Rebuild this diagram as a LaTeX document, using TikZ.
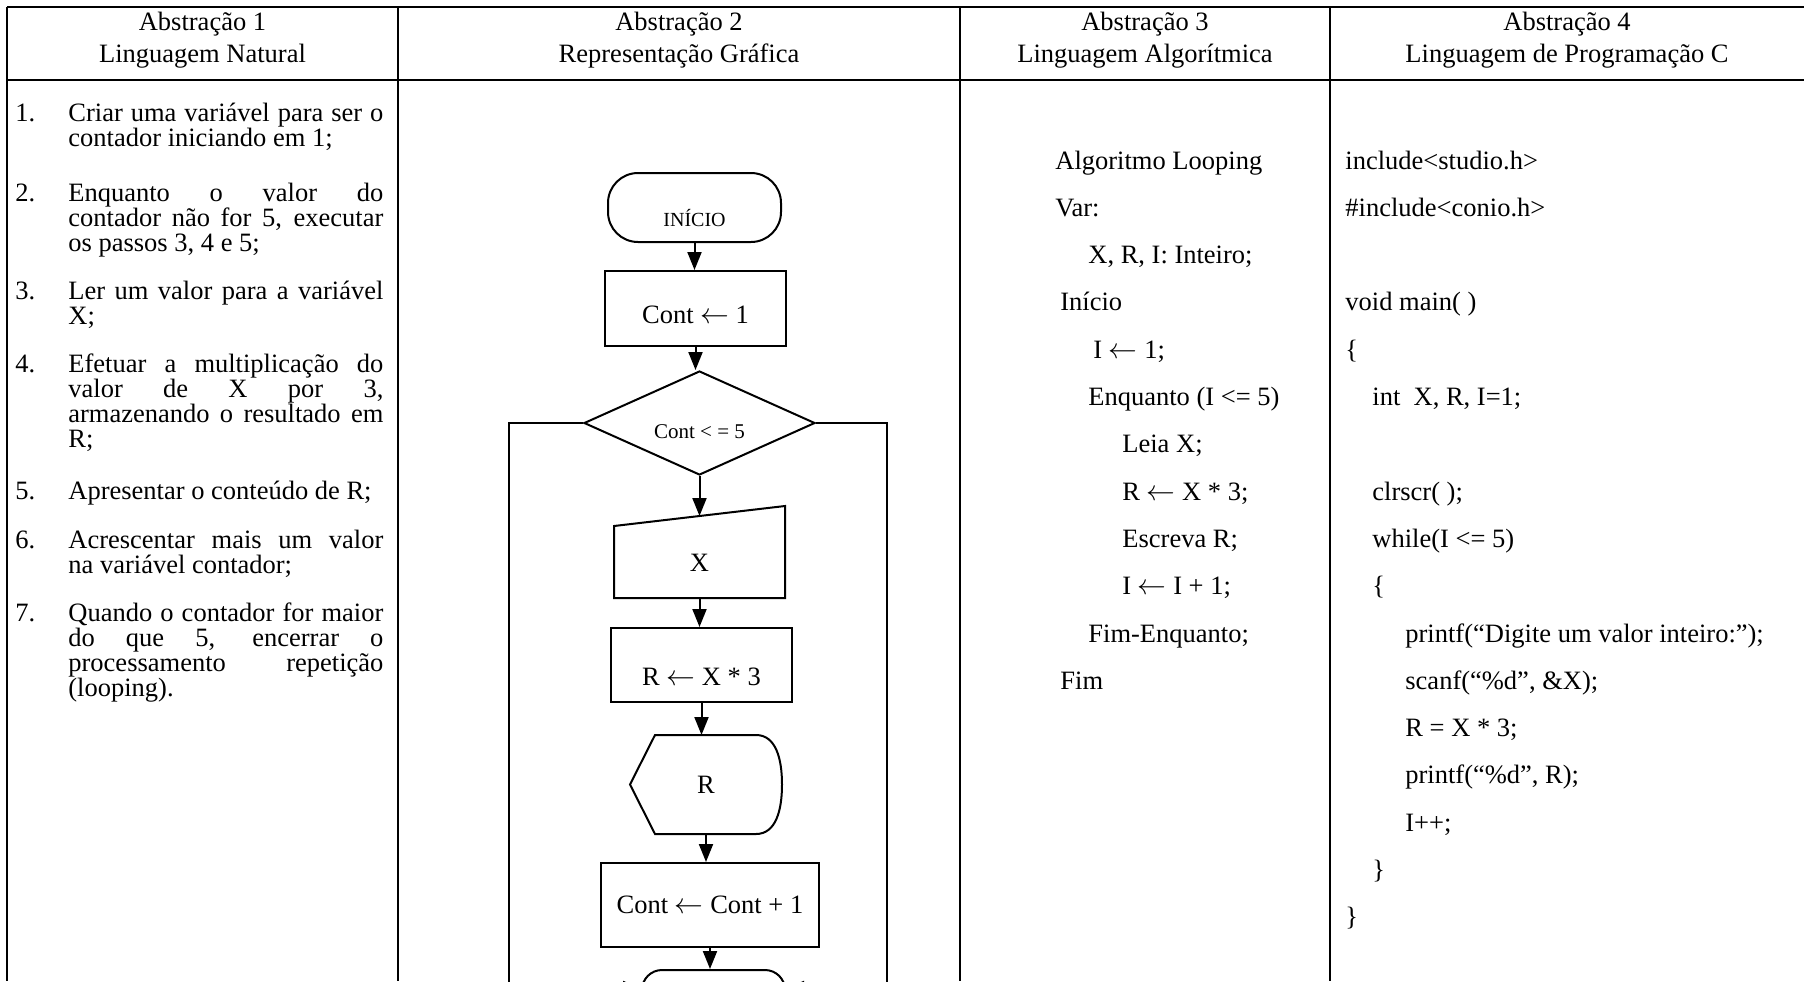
\documentclass[tikz,border=0pt]{standalone}
\usepackage{fontspec}
\setmainfont{Liberation Serif}
\usetikzlibrary{positioning, shapes.geometric, arrows.meta}
\hyphenpenalty=10000
\tolerance=10000
\tikzstyle{startstop} = [rectangle, rounded corners=15pt, minimum width=86.5pt, minimum height=34.5pt, text centered, draw=black, line width=1pt, font=\fontsize{10}{12}\selectfont]
\tikzstyle{process} = [rectangle, minimum width=90.5pt, minimum height=37.5pt, text centered, draw=black, line width=1pt]
\tikzstyle{decision} = [diamond, aspect=2.2, inner sep=0pt, minimum width=115.5pt, minimum height=52pt, text centered, draw=black, line width=1pt, font=\fontsize{10.5}{12}\selectfont]
\tikzstyle{arrow} = [line width=1pt, -{Triangle[length=9pt,width=7pt]}]
\tikzstyle{tabline} = [line width=1.4pt]
\tikzstyle{headline} = [anchor=base, inner sep=0pt]
\tikzstyle{listnum} = [anchor=base west, inner sep=0pt]
\tikzstyle{listitem} = [anchor=base west, inner sep=0pt, text width=157.5pt, align=justify, font=\fontsize{13.25}{12.6}\selectfont]
\tikzstyle{codeline} = [anchor=base west, inner sep=0pt]

\begin{document}
\begin{tikzpicture}[x=0.5pt, y=-0.5pt, font=\fontsize{13.25}{15.2}\selectfont]
			\clip (0,0) rectangle (1804,981);
			\fill [white] (0,0) rectangle (1804,981);
			
			% table
			\draw [tabline] (7,7) -- (1804,7);
			\draw [tabline] (7,80) -- (1804,80);
			\draw [tabline] (7,7) -- (7,981);
			\draw [tabline] (398,7) -- (398,981);
			\draw [tabline] (960,7) -- (960,981);
			\draw [tabline] (1330,7) -- (1330,981);
			
			\node (h1a) [headline] at (202.5,30) {Abstração 1};
			\node (h1b) [headline] at (202.5,62) {Linguagem Natural};
			\node (h2a) [headline] at (679,30) {Abstração 2};
			\node (h2b) [headline] at (679,62) {Representação Gráfica};
			\node (h3a) [headline] at (1145,30) {Abstração 3};
			\node (h3b) [headline] at (1145,62) {Linguagem Algorítmica};
			\node (h4a) [headline] at (1567,30) {Abstração 4};
			\node (h4b) [headline] at (1567,62) {Linguagem de Programação C};
			
			% natural language
			\node (n1) [listnum] at (15,121) {1.};
			\node (t1) [listitem] at (68,121) {Criar uma variável para ser o\linebreak contador iniciando em 1;};
			\node (n2) [listnum] at (15,201) {2.};
			\node (t2) [listitem] at (68,201) {Enquanto o valor do\linebreak contador não for 5, executar\linebreak os passos 3, 4 e 5;};
			\node (n3) [listnum] at (15,299) {3.};
			\node (t3) [listitem] at (68,299) {Ler um valor para a variável\linebreak X;};
			\node (n4) [listnum] at (15,372) {4.};
			\node (t4) [listitem] at (68,372) {Efetuar a multiplicação do\linebreak valor de X por 3,\linebreak armazenando o resultado em\linebreak R;};
			\node (n5) [listnum] at (15,499) {5.};
			\node (t5) [listitem] at (68,499) {Apresentar o conteúdo de R;};
			\node (n6) [listnum] at (15,548) {6.};
			\node (t6) [listitem] at (68,548) {Acrescentar mais um valor\linebreak na variável contador;};
			\node (n7) [listnum] at (15,621) {7.};
			\node (t7) [listitem] at (68,621) {Quando o contador for maior\linebreak do que 5, encerrar o\linebreak processamento repetição\linebreak (looping).};
			
			% flowchart
			\node (inicio) [startstop, text height=19pt, text depth=0pt] at (694.5,207.5) {INÍCIO};
			\node (init) [process, text height=15.3pt, text depth=0pt] at (695.5,308.5) {Cont $\leftarrow$ 1};
			\node (test) [decision, text height=15pt, text depth=0pt] at (699.5,423) {Cont < = 5};
			\node (input) [process, draw=none, minimum width=84.5pt, minimum height=45pt, text height=19.8pt, text depth=0pt] at (699.5,552) {X};
			\node (calc) [process, minimum height=37pt, text height=20.3pt, text depth=0pt] at (701.5,665) {R $\leftarrow$ X * 3};
			\node (output) [process, draw=none, minimum width=75pt, minimum height=48.5pt] at (706,784.5) {R};
			\node (incr) [process, minimum width=109pt, minimum height=42pt] at (710,905) {Cont $\leftarrow$ Cont + 1};
			\node (fim) [startstop, minimum width=71.5pt, minimum height=40pt, rounded corners=10pt] at (713.5,1010) {};
			
			\draw [line width=1pt] (input.south west) -- (input.south east) -- (input.north east) -- ([yshift=-10pt]input.north west) -- cycle;
			\draw [line width=1pt] ([xshift=12.5pt]output.north west) -- ([xshift=-13pt]output.north east) .. controls ([xshift=-3pt]output.north east) and ([yshift=-12pt]output.north east) .. (output.east) .. controls ([yshift=12pt]output.south east) and ([xshift=-3pt]output.south east) .. ([xshift=-13pt]output.south east) -- ([xshift=12.5pt]output.south west) -- (output.west) -- cycle;
			
			\coordinate (lbot) at (509,988);
			\coordinate (rbot) at (887,988);
			
			\draw [arrow] (inicio.south) -- (inicio.south |- init.north);
			\draw [arrow] (init.south) -- (init.south |- test.north);
			\draw [arrow] (test.south) -- ([yshift=-5pt]input.north);
			\draw [arrow] (input.south) -- (input.south |- calc.north);
			\draw [arrow] (calc.south) -- (calc.south |- output.north);
			\draw [arrow] (output.south) -- (output.south |- incr.north);
			\draw [arrow] (incr.south) -- (incr.south |- fim.north);
			\draw [arrow] (test.west) -| (lbot) -- (lbot -| fim.west);
			\draw [arrow] (test.east) -| (rbot) -- (rbot -| fim.east);
			
			% algorithm
			\node (alg) [codeline] at (1055,169) {Algoritmo Looping};
			\node (var) [codeline] at (1055,216.3) {Var:};
			\node (decl) [codeline] at (1088,263.6) {X, R, I: Inteiro;};
			\node (ini) [codeline] at (1060,310.9) {Início};
			\node (atr) [codeline] at (1093,358.2) {I $\leftarrow$ 1;};
			\node (enq) [codeline] at (1088,405.5) {Enquanto (I <= 5)};
			\node (leia) [codeline] at (1122,452.8) {Leia X;};
			\node (calcr) [codeline] at (1122,500.1) {R $\leftarrow$ X * 3;};
			\node (escr) [codeline] at (1122,547.4) {Escreva R;};
			\node (incri) [codeline] at (1122,594.7) {I $\leftarrow$ I + 1;};
			\node (fimenq) [codeline] at (1088,642) {Fim-Enquanto;};
			\node (fimalg) [codeline] at (1060,689.3) {Fim};
			
			% C program
			\node (inc1) [codeline] at (1345,169) {include<studio.h>};
			\node (inc2) [codeline] at (1345,216.3) {\#include<conio.h>};
			\node (mainf) [codeline] at (1345,310.9) {void main( )};
			\node (ob1) [codeline] at (1345,358.2) {\{};
			\node (decv) [codeline] at (1372,405.5) {int\ \ X, R, I=1;};
			\node (clr) [codeline] at (1372,500.1) {clrscr( );};
			\node (wh) [codeline] at (1372,547.4) {while(I <= 5)};
			\node (ob2) [codeline] at (1372,594.7) {\{};
			\node (pr1) [codeline] at (1405,642) {printf(“Digite um valor inteiro:”);};
			\node (sc) [codeline] at (1405,689.3) {scanf(“\%d”, \&X);};
			\node (asg) [codeline] at (1405,736.6) {R = X * 3;};
			\node (pr2) [codeline] at (1405,783.9) {printf(“\%d”, R);};
			\node (inc) [codeline] at (1405,831.2) {I++;};
			\node (cb2) [codeline] at (1372,878.5) {\}};
			\node (cb1) [codeline] at (1345,925.8) {\}};
			
		\end{tikzpicture}
\end{document}
